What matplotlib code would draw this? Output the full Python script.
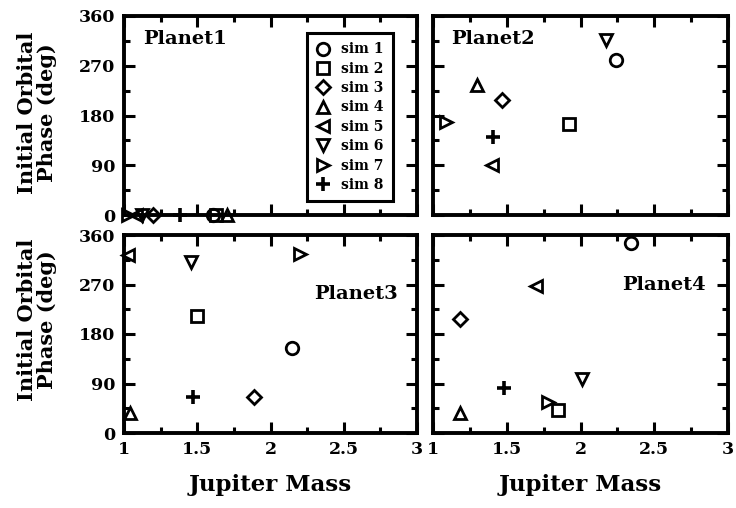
import matplotlib
matplotlib.use("Agg")
import matplotlib.pyplot as plt
from matplotlib.ticker import MultipleLocator

plt.rcParams['font.family'] = ['DejaVu Serif']
plt.rcParams['font.weight'] = 'bold'

sims = ["sim 1", "sim 2", "sim 3", "sim 4", "sim 5", "sim 6", "sim 7", "sim 8"]
markers = ["o", "s", "D", "^", "<", "v", ">", "+"]

planet1_mass = [1.61, 1.63, 1.20, 1.70, 1.08, 1.12, 1.03, 1.38]
planet1_phase = [0, 0, 0, 0, 0, 0, 0, 0]
planet2_mass = [2.24, 1.92, 1.47, 1.30, 1.40, 2.17, 1.09, 1.41]
planet2_phase = [280, 164, 208, 235, 90, 317, 168, 141]
planet3_mass = [2.15, 1.50, 1.89, 1.04, 1.03, 1.46, 2.20, 1.47]
planet3_phase = [155, 213, 66, 37, 324, 311, 325, 66]
planet4_mass = [2.34, 1.85, 1.18, 1.18, 1.70, 2.01, 1.78, 1.48]
planet4_phase = [346, 41, 207, 36, 267, 99, 57, 81]

planets = ["Planet1", "Planet2", "Planet3", "Planet4"]
masses = [planet1_mass, planet2_mass, planet3_mass, planet4_mass]
phases = [planet1_phase, planet2_phase, planet3_phase, planet4_phase]

W, H = 736, 508
fig = plt.figure(figsize=(W / 100, H / 100), dpi=100)

def px_axes(x0, x1, ytop, ybot):
    return fig.add_axes([x0 / W, (H - ybot) / H, (x1 - x0) / W, (ybot - ytop) / H])

boxes = [(124, 417, 16, 215), (433, 728, 16, 215),
         (124, 417, 235, 433), (433, 728, 235, 433)]
label_pos = [(0.065, 0.93, 'left'), (0.06, 0.93, 'left'),
             (0.935, 0.75, 'right'), (0.925, 0.795, 'right')]

axes = []
for i, (b, name, m, p) in enumerate(zip(boxes, planets, masses, phases)):
    ax = px_axes(*b)
    axes.append(ax)
    for j in range(len(sims)):
        if markers[j] == '+':
            ax.plot(m[j], p[j], linestyle='none', marker='+', markersize=10,
                    markeredgewidth=2.6, color='black', clip_on=False,
                    label=sims[j], zorder=3)
        else:
            ax.plot(m[j], p[j], linestyle='none', marker=markers[j],
                    markersize=9 if markers[j] != 'D' else 7.5,
                    markeredgewidth=2.0, markerfacecolor='none',
                    markeredgecolor='black', clip_on=False,
                    label=sims[j], zorder=3)
    ax.set_xlim(1, 3)
    ax.set_ylim(0, 360)
    ax.xaxis.set_major_locator(MultipleLocator(0.5))
    ax.xaxis.set_minor_locator(MultipleLocator(0.25))
    ax.yaxis.set_major_locator(MultipleLocator(90))
    ax.yaxis.set_minor_locator(MultipleLocator(45))
    ax.tick_params(which='both', direction='in', top=True, right=True,
                   width=2.2, labelsize=12.5)
    ax.tick_params(which='major', length=8)
    ax.tick_params(which='minor', length=4)
    ax.tick_params(axis='y', pad=6)
    for s in ax.spines.values():
        s.set_linewidth(2.8)
    if i < 2:
        ax.set_xticklabels([])
    if i % 2 == 1:
        ax.set_yticklabels([])
    else:
        ax.set_yticks([0, 90, 180, 270, 360])
        ax.set_yticklabels(["0", "90", "180", "270", "360"])
    if i >= 2:
        ax.set_xticks([1, 1.5, 2, 2.5, 3])
        ax.set_xticklabels(["1", "1.5", "2", "2.5", "3"])
        ax.tick_params(axis='x', pad=6)
        ax.set_xlabel("Jupiter Mass", fontsize=16.5, fontweight='bold', labelpad=11)
    lx, ly, ha = label_pos[i]
    ax.text(lx, ly, name, transform=ax.transAxes, ha=ha, va='top',
            fontsize=14, fontweight='bold')

for yc in (113, 320):
    fig.text(37 / W, 1 - yc / H, "Initial Orbital\nPhase (deg)", rotation=90,
             ha='center', va='center', fontsize=15, fontweight='bold',
             linespacing=1.0, multialignment='center')

leg = axes[0].legend(loc='upper left', bbox_to_anchor=(307 / W, 1 - 33 / H),
                     bbox_transform=fig.transFigure,
                     frameon=True, fancybox=False, edgecolor='black',
                     framealpha=1.0,
                     borderpad=0.68, labelspacing=0.385, handlelength=1.0,
                     handletextpad=0.75, borderaxespad=0, numpoints=1,
                     prop={'weight': 'bold', 'size': 10})
leg.get_frame().set_linewidth(2.2)
leg.set_zorder(5)

fig.savefig("out.png", dpi=100)
